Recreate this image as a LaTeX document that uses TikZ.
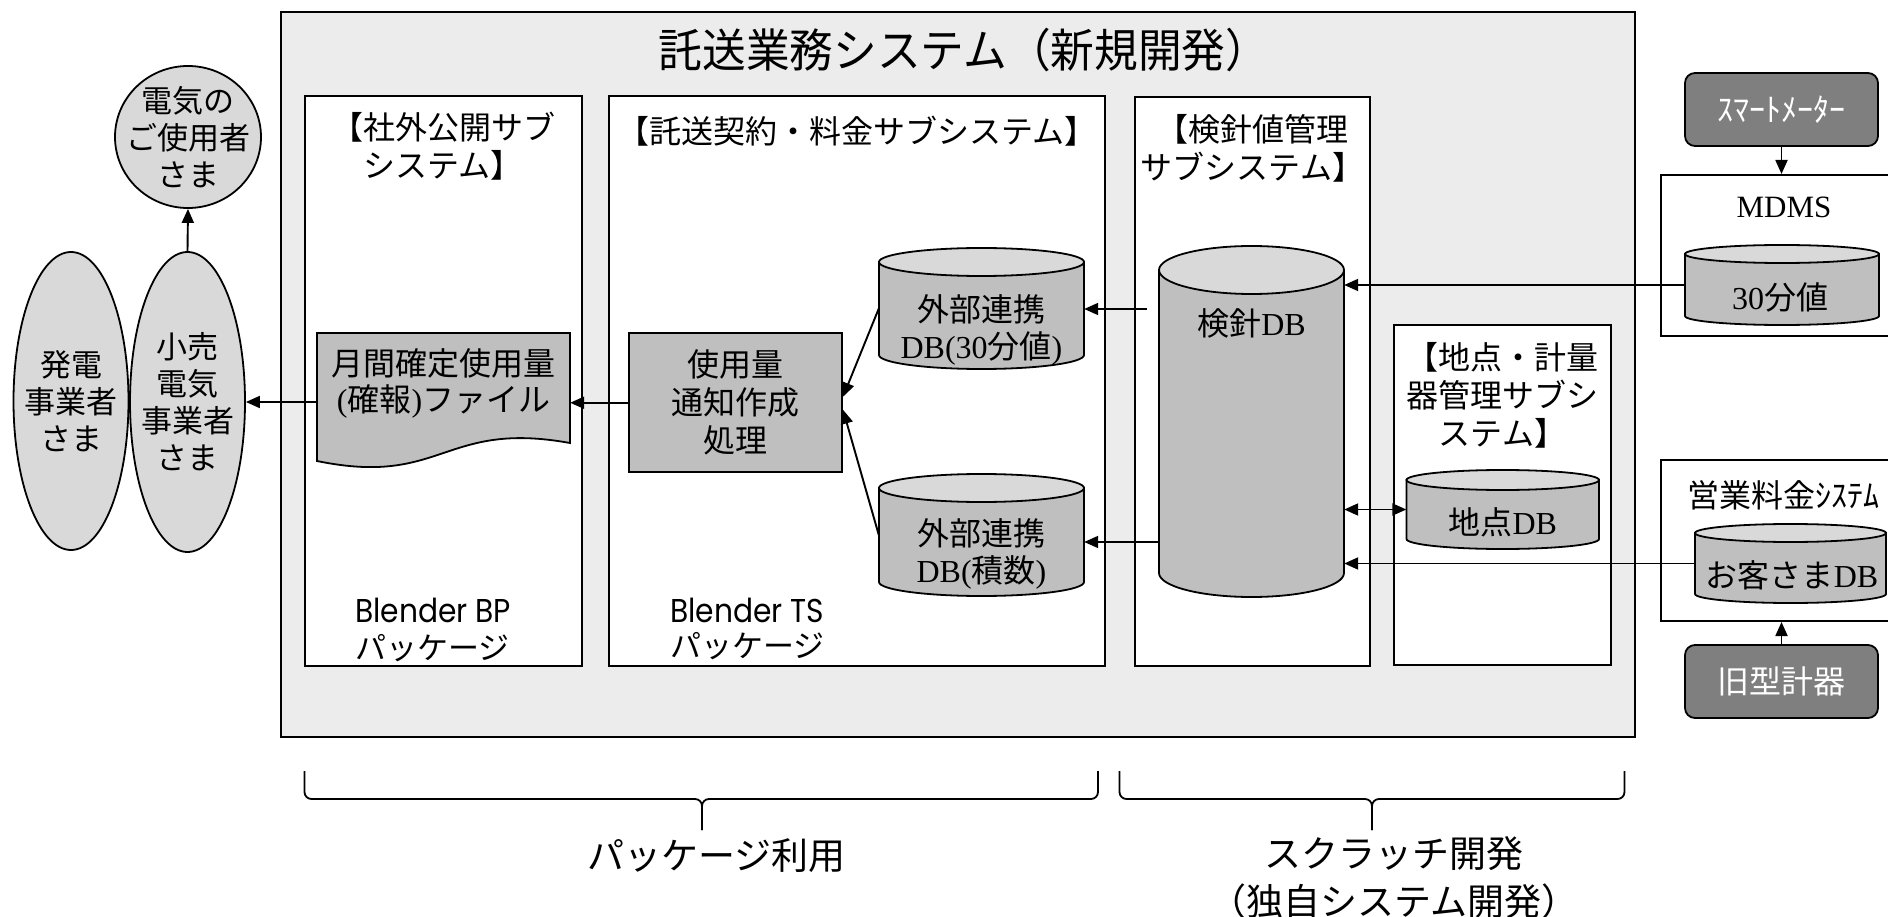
\documentclass[tikz,border=0pt]{standalone}
\usepackage{fontspec}
\setmainfont{Noto Sans CJK JP}
\newfontfamily\tmsf{Liberation Serif}
\newfontfamily\popf[FakeStretch=0.9]{Poppins}
\newfontfamily\ttlf[FakeStretch=0.95]{Noto Sans CJK JP}
\usetikzlibrary{arrows.meta,shapes.geometric,calc}
\definecolor{bggray}{RGB}{236,236,236}
\definecolor{lgray}{RGB}{217,217,217}
\definecolor{mgray}{RGB}{191,191,191}
\definecolor{dgray}{RGB}{127,127,127}
\newcommand{\latn}[1]{{\tmsf #1}}
% name, cx, cy, rx, half height, ry
\newcommand{\dbcyl}[6]{%
  \filldraw[line width=1.8pt,fill=mgray] ({#2-#4},{#3-#5+#6}) -- ({#2-#4},{#3+#5-#6}) arc[start angle=180,end angle=360,x radius=#4pt,y radius=#6pt] -- ({#2+#4},{#3-#5+#6}) -- cycle;
  \filldraw[line width=1.8pt,fill=lgray] (#2,{#3-#5+#6}) ellipse[x radius=#4pt,y radius=#6pt];
  \node[inner sep=0pt,minimum width={2*#4pt},minimum height={2*#5pt}] (#1) at (#2,#3) {};
}
\begin{document}
\begin{tikzpicture}[x=1pt,y=-1pt,
  box/.style={draw,line width=2pt,fill=white,inner sep=0pt},
  arr/.style={line width=1.9pt,-{Triangle[length=14pt,width=12pt]}},
  darr/.style={line width=1.9pt,{Triangle[length=14pt,width=12pt]}-{Triangle[length=14pt,width=12pt]}},
  jt/.style={font=\fontsize{32}{38}\selectfont,align=center,inner sep=0pt},
  ell/.style={ellipse,draw,line width=1.8pt,fill=lgray,inner sep=0pt},
  elt/.style={inner sep=0pt,font=\fontsize{31}{37}\selectfont,align=center},
  pkg/.style={anchor=west,inner sep=0pt},
  dbox/.style={draw,line width=1.8pt,fill=dgray,rounded corners=10pt,text=white,inner sep=0pt,font=\fontsize{32}{38}\selectfont,minimum width=193pt,minimum height=73pt},
  brace/.style={line width=1.8pt,rounded corners=7pt}]
\useasboundingbox (0,0) rectangle (1888,917);
\clip (0,0) rectangle (1888,917);
\fill[white] (0,0) rectangle (1888,917);

% outer system box
\node[draw,line width=2pt,fill=bggray,minimum width=1354.5pt,minimum height=725pt,inner sep=0pt] (outer) at (957.75,374.5) {};
\node[font=\fontsize{46}{50}\selectfont\ttlf,inner sep=0pt] (title) at (964,50) {託送業務システム（新規開発）};

% subsystem boxes
\node[box,minimum width=276.5pt,minimum height=570pt] (BP) at (443.25,381) {};
\node[box,minimum width=496pt,minimum height=570pt] (TS) at (857,381) {};
\node[box,minimum width=235pt,minimum height=569pt] (KS) at (1252.5,381.5) {};
\node[box,minimum width=217pt,minimum height=340pt] (CT) at (1502.5,495) {};

\node[jt] (tBP) at (443.25,146.5) {【社外公開サブ\\システム】};
\node[jt] (tTS) at (857,131) {【託送契約・料金サブシステム】};
\node[jt] (tKS) at (1252.5,148.5) {【検針値管理\\サブシステム】};
\node[jt] (tCT) at (1502.5,395.5) {【地点・計量\\器管理サブシ\\ステム】};

\node[pkg,font=\fontsize{33}{35}\selectfont\popf] (bBP) at (355,610) {Blender BP};
\node[pkg,font=\fontsize{31}{35}\selectfont] (pBP) at (355,648) {パッケージ};
\node[pkg,font=\fontsize{33}{35}\selectfont\popf] (bTS) at (670,610) {Blender TS};
\node[pkg,font=\fontsize{31}{35}\selectfont] (pTS) at (670,646) {パッケージ};

% left actors
\node[ell,minimum width=146pt,minimum height=142pt] (E1) at (188,137) {};
\node[elt] (tE1) at (E1) {電気の\\ご使用者\\さま};
\node[ell,minimum width=115pt,minimum height=298pt] (E2) at (71,401) {};
\node[elt] (tE2) at (E2) {発電\\事業者\\さま};
\node[ell,minimum width=115pt,minimum height=300pt] (E3) at (187.5,402) {};
\node[elt] (tE3) at (E3) {小売\\電気\\事業者\\さま};

% file document
\node[inner sep=0pt,minimum width=253pt,minimum height=128pt] (file) at (443.5,397) {};
\filldraw[fill=mgray,line width=1.8pt] (317,333) -- (570,333) -- (570,443) .. controls (443,420) and (443,487) .. (317,461) -- cycle;
\node[jt,font=\fontsize{32}{36}\selectfont] (filetxt) at (443.5,383) {月間確定使用量\\\latn{(}確報\latn{)}ファイル};

% process box
\node[box,fill=mgray,minimum width=213.5pt,minimum height=138.5pt,jt] (proc) at (735.25,402.75) {使用量\\通知作成\\処理};

% databases
\dbcyl{C30}{981.5}{308.5}{102.5}{60.5}{14}
\node[jt,font=\fontsize{32}{37}\selectfont] (tC30) at (981.5,330) {外部連携\\\latn{DB(30}分値\latn{)}};
\dbcyl{CSK}{981.5}{535}{102.5}{61}{14}
\node[jt,font=\fontsize{32}{37}\selectfont] (tCSK) at (981.5,553.5) {外部連携\\\latn{DB(}積数\latn{)}};
\dbcyl{KDB}{1251.5}{421.5}{92.5}{175.5}{24}
\node[jt] (tKDB) at (1251.5,323) {検針\latn{DB}};
\dbcyl{CTDB}{1502.75}{509.5}{96.25}{39.5}{10}
\node[jt] (tCTDB) at (1502.75,522) {地点\latn{DB}};

% external systems
\node[box,minimum width=239pt,minimum height=161pt] (MDMS) at (1780.5,255.5) {};
\node[inner sep=0pt,font=\fontsize{31}{36}\selectfont\tmsf] (tMD) at (1784,207) {MDMS};
\dbcyl{M30}{1782}{285}{97}{40}{9}
\node[jt] (tM30) at (1780,297) {\latn{30}分値};

\node[box,minimum width=239pt,minimum height=161pt] (EIG) at (1780.5,540.5) {};
\node[jt] (tEIG) at (1783,495) {営業料金ｼｽﾃﾑ};
\dbcyl{OKDB}{1790.5}{563.5}{95.5}{39.5}{9}
\node[jt] (tOKDB) at (1792,575) {お客さま\latn{DB}};

\node[dbox] (SM) at (1781.5,109.5) {ｽﾏｰﾄﾒｰﾀｰ};
\node[dbox] (OLD) at (1781.5,681.5) {旧型計器};

% connectors
\draw[arr] (E3.north) -- (E1.south);
\draw[arr] (file.west |- E3.east) -- (E3.east);
\draw[arr] (proc.west) -- (proc.west -| file.east);
\draw[arr] (C30.west) -- ($(proc.east)+(0,-6)$);
\draw[arr] (CSK.west) -- ($(proc.east)+(0,7)$);
\coordinate (kstub) at (1147,309);
\draw[arr] (kstub) -- (kstub -| C30.east);
\path ($(CSK.east)+(0,7)$) coordinate (cskin);
\draw[arr] (cskin -| KDB.west) -- (cskin);
\draw[arr] (M30.west) -- (M30.west -| KDB.east);
\draw[darr] (CTDB.west -| KDB.east) -- (CTDB.west);
\draw[arr] (OKDB.west) -- (OKDB.west -| KDB.east);
\draw[arr] (SM.south) -- (SM.south |- MDMS.north);
\draw[arr] (OLD.north) -- (OLD.north |- EIG.south);

% braces
\coordinate (bra) at (304.5,771);
\coordinate (brb) at (1098,771);
\coordinate (brt) at (702,830);
\draw[brace] (bra) -- (bra |- 0,799) -- (brt |- 0,799) -- (brt);
\draw[brace] (brb) -- (brb |- 0,799) -- (brt |- 0,799) -- (brt);
\coordinate (brc) at (1119.5,771);
\coordinate (brd) at (1624.5,771);
\coordinate (bru) at (1372,830);
\draw[brace] (brc) -- (brc |- 0,799) -- (bru |- 0,799) -- (bru);
\draw[brace] (brd) -- (brd |- 0,799) -- (bru |- 0,799) -- (bru);

\node[inner sep=0pt,font=\fontsize{37}{48}\selectfont] (lpkg) at (716.5,856) {パッケージ利用};
\node[inner sep=0pt,align=center,font=\fontsize{37}{48}\selectfont] (lscr) at (1394,878) {スクラッチ開発\\（独自システム開発）};
\end{tikzpicture}
\end{document}
